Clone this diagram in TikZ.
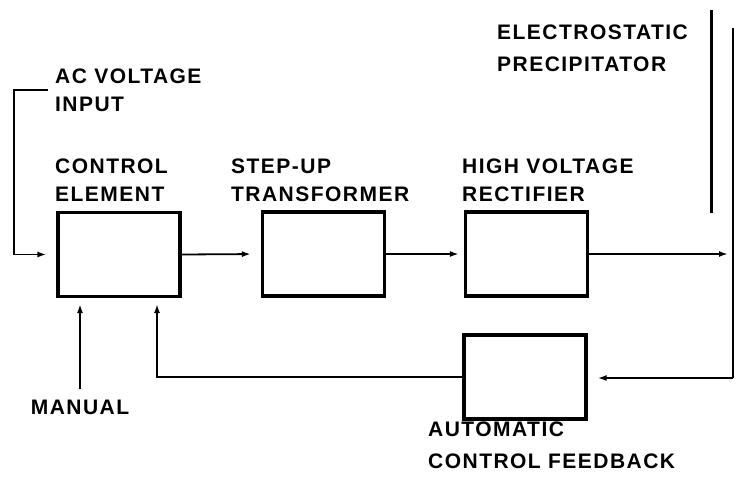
\documentclass[tikz,border=0pt]{standalone}
\usepackage{fontspec}
\setmainfont{Liberation Sans}[LetterSpace=7]
\usetikzlibrary{arrows.meta}

\begin{document}
\begin{tikzpicture}[x=1pt, y=-1pt,
  font=\bfseries\fontsize{21}{28}\selectfont,
  blk/.style={draw, line width=3.2pt, minimum width=122pt, minimum height=84pt, inner sep=0pt},
  lbl/.style={anchor=south west, align=left, inner sep=0pt},
  flow/.style={line width=1.8pt, -{Latex[length=9pt,width=6pt]}, shorten >=7pt},
  wire/.style={line width=1.8pt},
  plate/.style={line width=3pt}]
  \useasboundingbox (0,0) rectangle (750,482);
  \node[blk] (ctrl) at (119,254.5) {};
  \node[blk] (trans) at (323.5,254) {};
  \node[blk] (rect) at (526.5,254) {};
  \node[blk] (fb) at (525,377) {};
  \node[lbl] (aclbl) at (55,112) {AC VOLTAGE\\INPUT};
  \node[lbl] (ctrllbl) at (55,202) {CONTROL\\ELEMENT};
  \node[lbl] (translbl) at (231,202) {STEP-UP\\TRANSFORMER};
  \node[lbl] (rectlbl) at (462,202) {HIGH VOLTAGE\\RECTIFIER};
  \node[lbl] (esplbl) at (497,72) {ELECTROSTATIC\\[4pt]PRECIPITATOR};
  \node[lbl] (fblbl) at (428,469) {AUTOMATIC\\[4pt]CONTROL FEEDBACK};
  \node[inner sep=0pt, anchor=base] (man) at (80,414) {MANUAL};
  \coordinate (acstart) at (48,90);
  \coordinate (acbend) at (14,90);
  \coordinate (fbup) at (157,297);
  \coordinate (ptop) at (711,10);
  \coordinate (pbot) at (711,213);
  \coordinate (wtop) at (733,28);
  \coordinate (wbot) at (733,378);
  \draw[plate] (ptop) -- (pbot);
  \draw[wire] (wtop) -- (wbot);
  \draw[flow, shorten >=10pt] (acstart) -- (acbend) |- (ctrl.west);
  \draw[flow, shorten >=10pt] (ctrl.east) -- (trans.west);
  \draw[flow, shorten >=5pt] (trans.east) -- (rect.west);
  \draw[flow, shorten >=5pt] (rect.east) -- (rect.east -| wtop);
  \draw[flow, shorten >=10pt] (wbot) -- (wbot -| fb.east);
  \draw[flow] (fb.west) -| (fbup);
  \draw[flow, shorten <=10pt, shorten >=6pt] (man.north) -- (man.north |- ctrl.south);
\end{tikzpicture}
\end{document}
